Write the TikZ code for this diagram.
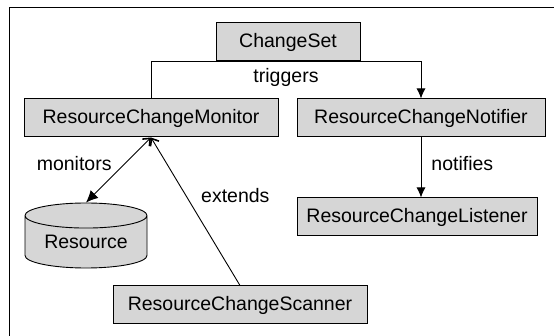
\documentclass[tikz,border=0pt]{standalone}
\usepackage{fontspec}
\setmainfont{Liberation Sans}
\usetikzlibrary{arrows.meta,shapes.geometric}

\tikzset{
    classbox/.style={draw, line width=1pt, fill=black!16, minimum width=#1,
        minimum height=38pt, inner sep=0pt, font=\fontsize{19.5}{23}\selectfont},
    store/.style={draw, line width=0.9pt, fill=black!16, cylinder,
        shape border rotate=90, aspect=0.3, minimum width=122pt,
        minimum height=65pt, inner sep=0pt, font=\fontsize{19.5}{23}\selectfont},
    lbl/.style={font=\fontsize{19.5}{23}\selectfont, inner sep=1pt},
    link/.style={line width=0.9pt}
}

\begin{document}
\begin{tikzpicture}[x=1pt,y=-1pt]
        \useasboundingbox (0,0) rectangle (554,336);
        \draw [line width=1pt] (9,336) -- (9,7.5) -- (554,7.5);
        % boxes
        \node [classbox=144pt] (set) at (288,42) {ChangeSet};
        \node [classbox=254pt] (monitor) at (151,118) {ResourceChangeMonitor};
        \node [classbox=248pt] (notifier) at (421,118) {ResourceChangeNotifier};
        \node [classbox=240pt] (listener) at (417,217) {ResourceChangeListener};
        \node [classbox=254pt] (scanner) at (240,305) {ResourceChangeScanner};
        \node [store, anchor=shape center] (resource) at (86,235.5) {Resource};
        % connectors
        \draw [link,-{Latex[length=10pt,width=9pt]}]
            (monitor.north) -- (monitor.north |- set.south)
            -- node [lbl, below, yshift=-5pt] {triggers} (notifier.north |- set.south)
            -- (notifier.north);
        \draw [link,-{Latex[length=10pt,width=9pt]}]
            (notifier.south) -- node [lbl, anchor=west, pos=0.43, xshift=9pt] {notifies} (notifier.south |- listener.north);
        \draw [link,{Straight Barb[length=6pt,width=10pt,line width=1.6pt]}-{Latex[length=12pt,width=11pt]}]
            (monitor.south) -- node [lbl, anchor=east, pos=0.4, xshift=-12pt] {monitors} (resource.north);
        \draw [link,-{Straight Barb[length=6pt,width=10pt,line width=1.6pt]}]
            (scanner.north) -- node [lbl, anchor=west, pos=0.61, xshift=14pt] {extends} (monitor.south);
    \end{tikzpicture}
\end{document}
